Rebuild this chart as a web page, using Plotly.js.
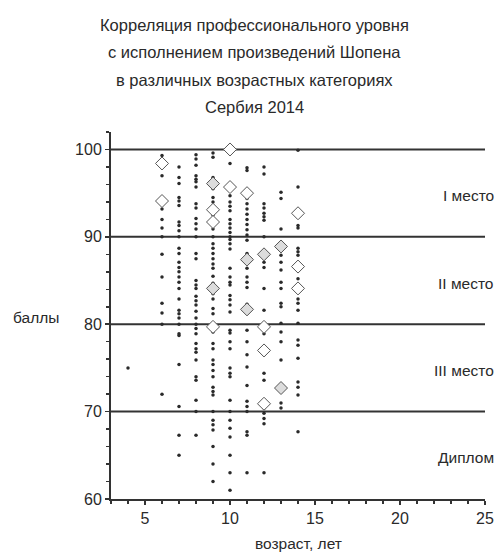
<!DOCTYPE html>
<html>
<head>
<meta charset="utf-8">
<script src="https://cdn.plot.ly/plotly-3.0.1.min.js"></script>
<style>html,body{margin:0;padding:0;background:#fff;}#chart{width:499px;height:560px;}</style>
</head>
<body>
<div id="chart"></div>
<script>
// ---- data ----
const titleLines = [
  "Корреляция профессионального уровня",
  "с исполнением произведений Шопена",
  "в различных возрастных категориях",
  "Сербия 2014"
];
const xTitle = "возраст, лет";
const yTitle = "баллы";
const zoneLines = [70, 80, 90, 100];
const zoneLabels = ["I место", "II место", "III место", "Диплом"];
const zoneLabelY = [94.7, 84.7, 74.7, 64.7];
const xTicks = [5, 10, 15, 20, 25];
const yTicks = [60, 70, 80, 90, 100];

// individual scores per age
const ages = [4, 6, 7, 8, 9, 10, 11, 12, 13, 14];
const scores4 = [75];
const scores6 = [99.3, 97, 93.2, 92, 91, 90, 88, 85.4, 82.4, 81.3, 80, 72];
const scores7 = [98, 96.8, 96.1, 94.5, 94.1, 93.6, 91.7, 91.3, 90.7, 90, 88.7, 88.1, 87.1, 86.5, 86, 85.4, 84.8, 84.1, 82.9, 81.6, 81.2, 80.7, 80, 78.9, 78.7, 75.4, 70.6, 67.3, 65];
const scores8 = [99.4, 98.9, 98.2, 97, 96.6, 96.3, 95.7, 93.8, 93.3, 92.1, 91.5, 90.9, 90, 88.1, 87.5, 85, 84.5, 84.1, 83.2, 82.7, 82.2, 81.5, 80.7, 80, 79.5, 78.9, 77.8, 77.2, 76.8, 75.9, 74, 73.6, 71.3, 70, 67.3];
const scores9 = [99.6, 99.1, 96.8, 96.4, 96.1, 95.5, 94.5, 94, 93.1, 92.5, 91.7, 90.9, 90, 89.2, 88.7, 88.1, 87.5, 86.9, 86.4, 85.5, 84.7, 84.1, 83.5, 82.9, 81.8, 81.2, 79.7, 79.1, 77.8, 77.2, 75.9, 75.4, 74.7, 74, 72.8, 72.3, 71.9, 70, 69, 68.5, 67.9, 66, 64, 62];
const scores10 = [100, 98.4, 95.7, 94.7, 94, 93.5, 93, 92, 91.5, 91, 90.5, 90, 89.7, 89.2, 88.6, 86.4, 85.4, 84.8, 84.5, 83.3, 82.8, 82.2, 81.4, 79.3, 79, 78, 77.2, 75, 74.4, 74, 71.3, 70, 69, 68.1, 67.1, 65, 63, 61];
const scores11 = [97.9, 97.6, 95, 94.4, 93.8, 93.2, 92.6, 92, 91.4, 90.8, 90.2, 89.6, 88.1, 87.4, 86.4, 85.4, 84.8, 84.2, 82.3, 81.7, 79.3, 78, 76.5, 75.1, 73, 71.2, 70.6, 70, 67.7, 67.3, 63];
const scores12 = [98, 97.2, 93.8, 93.3, 92.7, 92.3, 91.9, 90, 88.1, 87.1, 86.5, 84.1, 81.6, 80, 78.9, 76.5, 74.4, 73.6, 70.4, 69.8, 69.2, 68.6, 63];
const scores13 = [95.1, 94.4, 90.9, 87.9, 87.1, 86.2, 84.8, 84.1, 82.4, 82, 80.1, 79.1, 78, 75.9, 71, 70.4];
const scores14 = [99.9, 95.7, 91.3, 91, 88.7, 88.3, 87.9, 86.2, 85.2, 82.9, 82.4, 81.6, 80.1, 78.2, 77.6, 76.1, 73.4, 72.8, 71.9, 67.7];

// highlighted results (diamonds)
const diamondAge = [6, 6, 9, 9, 9, 10, 10, 11, 12, 12, 12, 14, 14, 14];
const diamondScore = [98.4, 94.1, 93.1, 91.7, 79.7, 100, 95.7, 95.0, 79.7, 77.0, 70.9, 92.7, 86.6, 84.1];
const shadedAge = [9, 9, 11, 11, 12, 13, 13];
const shadedScore = [96.1, 84.1, 87.4, 81.7, 88.0, 88.9, 72.7];

// ---- build traces ----
const allScores = [scores4, scores6, scores7, scores8, scores9, scores10, scores11, scores12, scores13, scores14];
const dotX = [], dotY = [];
ages.forEach((a, i) => { allScores[i].forEach(s => { dotX.push(a); dotY.push(s); }); });

const FONT = "Liberation Sans, Arial, sans-serif";
const INK = "#2a2a2a";

const traces = [
  { x: dotX, y: dotY, type: "scatter", mode: "markers",
    marker: { size: 3.5, color: INK }, hoverinfo: "x+y" },
  { x: shadedAge, y: shadedScore, type: "scatter", mode: "markers",
    marker: { symbol: "diamond", size: 10, color: "#dcdcdc", line: { color: "#555", width: 1 } } },
  { x: diamondAge, y: diamondScore, type: "scatter", mode: "markers",
    marker: { symbol: "diamond", size: 10, color: "#ffffff", line: { color: "#555", width: 1 } } }
];

const shapes = zoneLines.map(v => ({
  type: "line", xref: "paper", x0: 0, x1: 1, yref: "y", y0: v, y1: v,
  line: { color: "#333", width: 2 }, layer: "below"
}));

const titleY = [1.291, 1.218, 1.142, 1.068];
const annotations = [];
titleLines.forEach((t, i) => annotations.push({
  text: t, xref: "paper", yref: "paper", x: (254 - 111) / 374, y: titleY[i],
  xanchor: "center", yanchor: "middle", showarrow: false,
  font: { family: FONT, size: 16.5, color: INK }
}));
zoneLabels.forEach((t, i) => annotations.push({
  text: t, xref: "paper", yref: "y", x: 1.03, y: zoneLabelY[i],
  xanchor: "right", yanchor: "middle", showarrow: false,
  font: { family: FONT, size: 15.5, color: INK }
}));
annotations.push({
  text: yTitle, xref: "paper", yref: "y", x: (36 - 111) / 374, y: 80.8,
  xanchor: "center", yanchor: "middle", showarrow: false,
  font: { family: FONT, size: 15.5, color: INK }
});
annotations.push({
  text: xTitle, xref: "paper", yref: "paper", x: 0.5, y: (499 - 543) / 367,
  xanchor: "center", yanchor: "middle", showarrow: false,
  font: { family: FONT, size: 15.5, color: INK }
});

const layout = {
  width: 499, height: 560,
  margin: { l: 111, r: 14, t: 132, b: 61 },
  paper_bgcolor: "#fff", plot_bgcolor: "#fff",
  showlegend: false,
  font: { family: FONT, size: 16, color: INK },
  xaxis: {
    range: [3, 25], tickvals: xTicks, ticks: "outside", ticklen: 4, tickwidth: 1.5, tickcolor: "#333",
    showgrid: false, zeroline: false, showline: true, linecolor: "#333", linewidth: 2,
    tickfont: { family: FONT, size: 16, color: INK },
    minor: { dtick: 1, ticks: "outside", ticklen: 3, tickcolor: "#333", showgrid: false }
  },
  yaxis: {
    range: [60, 102], tickvals: yTicks, ticks: "outside", ticklen: 4, tickwidth: 1.5, tickcolor: "#333",
    showgrid: false, zeroline: false, showline: true, linecolor: "#333", linewidth: 2,
    tickfont: { family: FONT, size: 16, color: INK },
    minor: { dtick: 2, ticks: "outside", ticklen: 3, tickcolor: "#333", showgrid: false }
  },
  shapes: shapes,
  annotations: annotations
};

Plotly.newPlot("chart", traces, layout, { displayModeBar: false, staticPlot: true });
</script>
</body>
</html>
